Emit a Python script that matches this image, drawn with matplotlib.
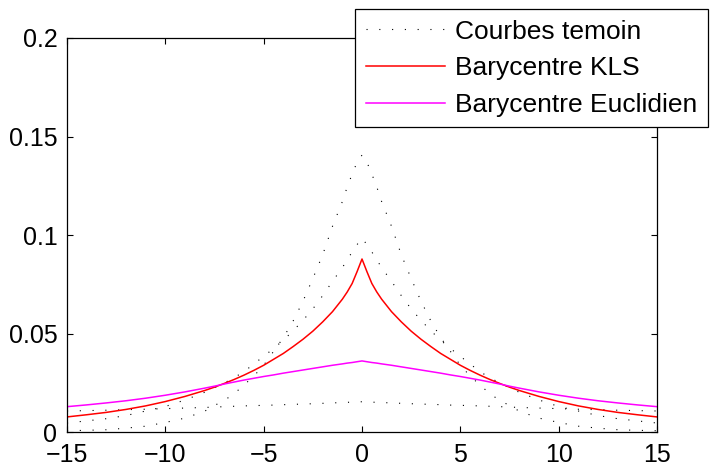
import numpy as np
import matplotlib
matplotlib.use("Agg")
import matplotlib.pyplot as plt

plt.rcParams['font.family'] = ['Liberation Sans', 'DejaVu Sans']

# positive half of the abscissa grid (curves are symmetric about 0)
x_half = [0, 0.25, 0.5, 0.75, 1, 1.5, 2, 2.5, 3, 3.5, 4, 4.5, 5, 5.5, 6, 6.5,
          7, 7.5, 8, 9, 10, 11, 12, 13, 14, 15]

temoin_1 = [0.1406, 0.137, 0.131, 0.1245, 0.117, 0.1045, 0.090, 0.078, 0.0665,
            0.0565, 0.048, 0.041, 0.034, 0.0285, 0.024, 0.0196, 0.0162, 0.0136,
            0.0107, 0.0072, 0.0050, 0.0031, 0.0021, 0.0013, 0.0010, 0.0008]
temoin_2 = [0.0985, 0.0952, 0.0915, 0.0875, 0.0835, 0.0766, 0.0693, 0.0626,
            0.0568, 0.0515, 0.0467, 0.0425, 0.0385, 0.0347, 0.0307, 0.0278,
            0.0250, 0.0226, 0.0203, 0.0164, 0.0131, 0.0108, 0.0085, 0.0069,
            0.0058, 0.0047]
temoin_3 = [0.0155, 0.0154, 0.0153, 0.0152, 0.0151, 0.0149, 0.0147, 0.0145,
            0.0143, 0.0142, 0.0140, 0.0138, 0.0137, 0.0135, 0.0134, 0.0132,
            0.0130, 0.0128, 0.0126, 0.0123, 0.0120, 0.0117, 0.0115, 0.0112,
            0.0110, 0.0108]
bary_kls = [0.0879, 0.0815, 0.0755, 0.0712, 0.0675, 0.0612, 0.0560, 0.0513,
            0.0472, 0.0435, 0.0400, 0.0370, 0.0340, 0.0314, 0.0290, 0.0268,
            0.0248, 0.0229, 0.0212, 0.0182, 0.0156, 0.0134, 0.0116, 0.0101,
            0.0089, 0.0078]
bary_eucl = [0.0362, 0.0358, 0.0354, 0.0351, 0.0347, 0.0340, 0.0332, 0.0324,
             0.0316, 0.0308, 0.0300, 0.0291, 0.0283, 0.0274, 0.0265, 0.0255,
             0.0245, 0.0234, 0.0224, 0.0205, 0.0188, 0.0173, 0.0160, 0.0149,
             0.0139, 0.0130]

x_ticks = [-15, -10, -5, 0, 5, 10, 15]
y_ticks = [0, 0.05, 0.1, 0.15, 0.2]
y_tick_labels = ['0', '0.05', '0.1', '0.15', '0.2']
labels = ['Courbes temoin', 'Barycentre KLS', 'Barycentre Euclidien']


def full(vals):
    v = np.asarray(vals, dtype=float)
    return np.concatenate([v[:0:-1], v])


xh = np.asarray(x_half, dtype=float)
x = np.concatenate([-xh[:0:-1], xh])

fig = plt.figure(figsize=(7.13, 4.69), dpi=100)
ax = fig.add_axes([67 / 713, 1 - 432.3 / 469, 590 / 713, 394.3 / 469])

dot_kw = dict(color='black', linewidth=0.8, dashes=(1, 10.5))
h1, = ax.plot(x, full(temoin_1), label=labels[0], **dot_kw)
ax.plot(x, full(temoin_2), **dot_kw)
ax.plot(x, full(temoin_3), **dot_kw)
h2, = ax.plot(x, full(bary_kls), color='#ff0000', linewidth=1.1, label=labels[1])
h3, = ax.plot(x, full(bary_eucl), color='#ff00ff', linewidth=1.1, label=labels[2])

ax.set_xlim(-15, 15)
ax.set_ylim(0, 0.2)
ax.set_xticks(x_ticks)
ax.set_xticklabels([str(t).replace('-', '\u2212') for t in x_ticks])
ax.set_yticks(y_ticks)
ax.set_yticklabels(y_tick_labels)
ax.tick_params(direction='in', top=True, right=True, length=4.5, width=0.8,
               labelsize=18)
ax.tick_params(axis='y', pad=7)
ax.tick_params(axis='x', pad=8)
for s in ax.spines.values():
    s.set_linewidth(0.9)

leg = fig.legend(handles=[h1, h2, h3], loc='upper right',
                 bbox_to_anchor=(708 / 713, 1 - 9 / 469), fontsize=19,
                 frameon=True, fancybox=False, framealpha=1, edgecolor='black',
                 handlelength=3.0, handletextpad=0.38, labelspacing=0.48,
                 borderpad=0.4, borderaxespad=0)
leg.get_frame().set_linewidth(0.9)

fig.savefig('out.png', dpi=100)
